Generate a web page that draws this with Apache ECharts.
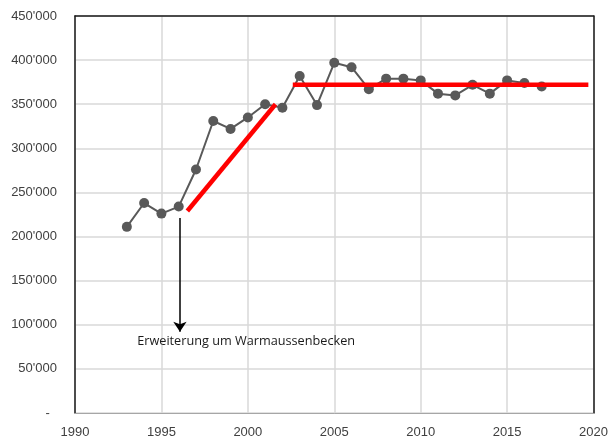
<!DOCTYPE html>
<html>
<head>
<meta charset="utf-8">
<script src="https://cdn.jsdelivr.net/npm/echarts@6/dist/echarts.min.js"></script>
<style>
  html, body { margin: 0; padding: 0; background: #fff; }
  #chart { width: 611px; height: 442px; }
</style>
</head>
<body>
<div id="chart"></div>
<script>
// Besucher pro Jahr
const years = [1993, 1994, 1995, 1996, 1997, 1998, 1999, 2000, 2001, 2002, 2003, 2004, 2005,
  2006, 2007, 2008, 2009, 2010, 2011, 2012, 2013, 2014, 2015, 2016, 2017];
const visitors = [211000, 238000, 226000, 234000, 276000, 331000, 322000, 335000, 350000, 346000,
  382000, 349000, 397000, 392000, 367000, 379000, 379000, 377000, 362000, 360000, 372000,
  362000, 377000, 374000, 370000];

// Trendlinien (rot)
const riseYears = [1996.5, 2001.6];
const riseValues = [229000, 350000];
const flatYears = [2002.6, 2019.7];
const flatValues = [372000, 372000];

// Annotation
const noteText = 'Erweiterung um Warmaussenbecken';
const arrowYear = 1996.07;
const arrowFrom = 221000;
const arrowTo = 92000;
const notePos = [1999.9, 81000];

const pairs = (xs, ys) => xs.map((x, i) => [x, ys[i]]);

const fmtY = (v) => {
  if (v === 0) return '-\u00a0\u00a0';
  return String(v).replace(/\B(?=(\d{3})+(?!\d))/g, "'");
};

const frame = { show: true, onZero: false, lineStyle: { color: '#1a1a1a', width: 1.5 } };

const chart = echarts.init(document.getElementById('chart'));
chart.setOption({
  animation: false,
  grid: { left: 75, right: 17, top: 16, bottom: 29 },
  xAxis: [
    {
      type: 'value',
      min: 1990,
      max: 2020,
      interval: 5,
      axisLine: { show: true, onZero: false, lineStyle: { color: '#a6a6a6', width: 1 } },
      axisTick: { show: false },
      splitLine: { show: true, lineStyle: { color: '#d9d9d9', width: 1.5 } },
      axisLabel: { color: '#404040', fontFamily: 'Liberation Sans', fontSize: 13, margin: 13, formatter: (v) => String(v) }
    },
    {
      type: 'value', position: 'top', min: 1990, max: 2020, interval: 5,
      axisLine: frame,
      axisTick: { show: false }, axisLabel: { show: false }, splitLine: { show: false }
    }
  ],
  yAxis: [
    {
      type: 'value',
      min: 0,
      max: 450000,
      interval: 50000,
      axisLine: frame,
      axisTick: { show: false },
      splitLine: { show: true, lineStyle: { color: '#d9d9d9', width: 1.5 } },
      axisLabel: { color: '#404040', fontFamily: 'Liberation Sans', fontSize: 13, margin: 18, formatter: fmtY }
    },
    {
      type: 'value', position: 'right', min: 0, max: 450000, interval: 50000,
      axisLine: frame,
      axisTick: { show: false }, axisLabel: { show: false }, splitLine: { show: false }
    }
  ],
  series: [
    {
      type: 'line',
      data: pairs(years, visitors),
      symbol: 'circle',
      symbolSize: 10,
      lineStyle: { color: '#595959', width: 2 },
      itemStyle: { color: '#595959' },
      z: 3,
      markLine: {
        silent: true,
        symbol: ['none', 'arrow'],
        symbolSize: 10,
        lineStyle: { color: '#000', width: 1.5, type: 'solid' },
        label: { show: false },
        data: [[{ coord: [arrowYear, arrowFrom] }, { coord: [arrowYear, arrowTo] }]]
      },
      markPoint: {
        silent: true,
        symbol: 'circle',
        symbolSize: 0,
        label: {
          show: true,
          formatter: noteText,
          color: '#1a1a1a',
          fontFamily: 'Open Sans',
          fontSize: 12.7,
          position: 'inside'
        },
        data: [{ coord: notePos }]
      }
    },
    {
      type: 'line',
      data: pairs(riseYears, riseValues),
      symbol: 'none',
      lineStyle: { color: '#ff0000', width: 4.5 },
      z: 4
    },
    {
      type: 'line',
      data: pairs(flatYears, flatValues),
      symbol: 'none',
      lineStyle: { color: '#ff0000', width: 4.5 },
      z: 4
    }
  ]
});
</script>
</body>
</html>
